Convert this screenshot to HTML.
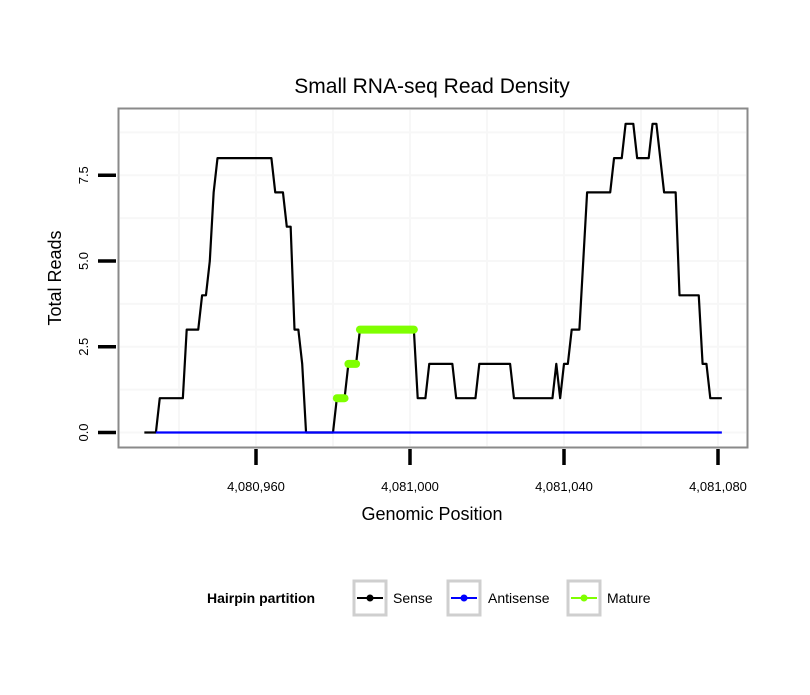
<!DOCTYPE html>
<html><head><meta charset="utf-8"><style>
body{margin:0;background:#fff;}
svg text{font-family:"Liberation Sans",Arial,sans-serif;}
</style></head><body>
<svg id="chart" width="810" height="690" viewBox="0 0 810 690" xmlns="http://www.w3.org/2000/svg">
<rect x="0" y="0" width="810" height="690" fill="#fff"/>
<text x="432" y="93" font-size="21" text-anchor="middle">Small RNA-seq Read Density</text>
<rect x="119" y="109" width="628" height="338" fill="#fff"/>
<g id="grid"></g>
<g id="series"></g>
<rect x="118.5" y="108.5" width="629" height="339" fill="none" stroke="#8a8a8a" stroke-width="2"/>
<g id="xaxis"></g>
<g id="yaxis"></g>
<text x="432" y="520" font-size="18" text-anchor="middle">Genomic Position</text>
<text x="0" y="0" font-size="18" text-anchor="middle" transform="translate(61,278) rotate(-90)">Total Reads</text>
<g>
<text x="207" y="603" font-size="14" font-weight="bold">Hairpin partition</text>
<g>
<rect x="354" y="581" width="32" height="34" fill="#fff" stroke="#cfcfcf" stroke-width="3"/>
<line x1="357" y1="598" x2="383" y2="598" stroke="#000" stroke-width="2"/><circle cx="370" cy="598" r="3.5" fill="#000"/>
<text x="393" y="603" font-size="14">Sense</text></g>
<g>
<rect x="448" y="581" width="32" height="34" fill="#fff" stroke="#cfcfcf" stroke-width="3"/>
<line x1="451" y1="598" x2="477" y2="598" stroke="#0000ff" stroke-width="2"/><circle cx="464" cy="598" r="3.5" fill="#0000ff"/>
<text x="488" y="603" font-size="14">Antisense</text></g>
<g>
<rect x="568" y="581" width="32" height="34" fill="#fff" stroke="#cfcfcf" stroke-width="3"/>
<line x1="571" y1="598" x2="597" y2="598" stroke="#7fff00" stroke-width="2"/><circle cx="584" cy="598" r="3.5" fill="#7fff00"/>
<text x="607" y="603" font-size="14">Mature</text></g>
</g>
</svg>
<script>
const senseX=[4080931,4080934,4080935,4080941,4080942,4080945,4080946,4080947,4080948,4080949,4080950,4080964,4080965,4080967,4080968,4080969,4080970,4080971,4080972,4080973,4080980,4080981,4080983,4080984,4080986,4080987,4081001,4081002,4081004,4081005,4081011,4081012,4081017,4081018,4081026,4081027,4081037,4081038,4081039,4081040,4081041,4081042,4081044,4081046,4081052,4081053,4081055,4081056,4081058,4081059,4081062,4081063,4081064,4081066,4081069,4081070,4081075,4081076,4081077,4081078,4081081];
const senseY=[0,0,1,1,3,3,4,4,5,7,8,8,7,7,6,6,3,3,2,0,0,1,1,2,2,3,3,1,1,2,2,1,1,2,2,1,1,2,1,2,2,3,3,7,7,8,8,9,9,8,8,9,9,7,7,4,4,2,2,1,1];
const antisenseX=[4080934,4081081];
const antisenseY=[0,0];
const matureSegStart=[4080981,4080984,4080987];
const matureSegEnd=[4080983,4080986,4081001];
const matureSegValue=[1,2,3];
const xTicks=[4080960,4081000,4081040,4081080];
const xTickLabels=["4,080,960","4,081,000","4,081,040","4,081,080"];
const yTicks=[0,2.5,5,7.5];
const yTickLabels=["0.0","2.5","5.0","7.5"];
const xMinor=[4080940,4080980,4081020,4081060];
const yMinor=[1.25,3.75,6.25,8.75];

const NS="http://www.w3.org/2000/svg";
function sx(v){return 256+(v-4080960)*3.85;}
function sy(v){return 432.5-v*34.3;}
function mk(tag,attrs,parent){const e=document.createElementNS(NS,tag);for(const k in attrs)e.setAttribute(k,attrs[k]);parent.appendChild(e);return e;}
const grid=document.getElementById('grid'),series=document.getElementById('series'),xa=document.getElementById('xaxis'),ya=document.getElementById('yaxis');
xMinor.concat(xTicks).forEach(v=>{const l=mk('line',{x1:sx(v),x2:sx(v),y1:110,y2:446,stroke:'#f7f7f7','stroke-width':2},grid);

});
yMinor.concat(yTicks).forEach(v=>{const l=mk('line',{x1:120,x2:746,y1:sy(v),y2:sy(v),stroke:'#f7f7f7','stroke-width':2},grid);

});
function pts(xs,ys){return xs.map((x,i)=>sx(x)+','+sy(ys[i])).join(' ');}
const sl=mk('polyline',{points:pts(senseX,senseY),fill:'none',stroke:'#000','stroke-width':2.2,'stroke-linejoin':'round'},series);


const al=mk('polyline',{points:pts(antisenseX,antisenseY),fill:'none',stroke:'#0000ff','stroke-width':2.2},series);


matureSegStart.forEach((s,i)=>{const l=mk('line',{x1:sx(s),x2:sx(matureSegEnd[i]),y1:sy(matureSegValue[i]),y2:sy(matureSegValue[i]),stroke:'#7fff00','stroke-width':8,'stroke-linecap':'round'},series);

});
xTicks.forEach((v,i)=>{const t=mk('line',{x1:sx(v),x2:sx(v),y1:449,y2:465,stroke:'#000','stroke-width':3.5},xa);


const tx=mk('text',{x:sx(v),y:491,'font-size':13,'text-anchor':'middle'},xa);tx.textContent=xTickLabels[i];

});
yTicks.forEach((v,i)=>{const t=mk('line',{x1:98,x2:116,y1:sy(v),y2:sy(v),stroke:'#000','stroke-width':3.5},ya);


const tx=mk('text',{x:0,y:0,'font-size':13,'text-anchor':'middle',transform:'translate(88,'+sy(v)+') rotate(-90)'},ya);tx.textContent=yTickLabels[i];

});
</script>
</body></html>
